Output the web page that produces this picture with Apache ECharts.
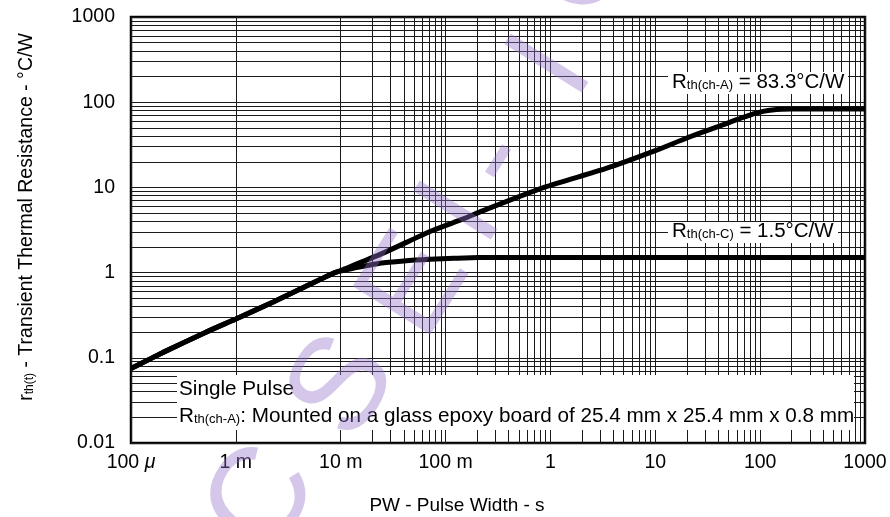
<!DOCTYPE html>
<html>
<head>
<meta charset="utf-8">
<script src="https://cdn.jsdelivr.net/npm/echarts@6/dist/echarts.min.js"></script>
<style>
html,body{margin:0;padding:0;background:#fff;}
#chart{width:890px;height:517px;}
</style>
</head>
<body>
<div id="chart"></div>
<script>
// ---- data ----
const pwA = [1e-4, 2e-4, 5e-4, 1e-3, 2.3e-3, 5e-3, 8.3e-3, 0.01, 0.025, 0.074, 0.15, 0.225, 0.87, 3.4, 10, 20, 41, 86, 110, 130, 160, 200, 300, 1000];
const rthA = [0.075, 0.115, 0.196, 0.286, 0.455, 0.72, 0.97, 1.06, 1.68, 3.1, 4.3, 5.3, 10.0, 16.7, 27, 38, 52.5, 72.7, 78.5, 81, 82.6, 83.2, 83.3, 83.3];
const pwC = [1e-4, 2e-4, 5e-4, 1e-3, 2.3e-3, 5e-3, 8.3e-3, 0.0098, 0.0114, 0.015, 0.0236, 0.04, 0.0708, 0.12, 0.21, 0.35, 1000];
const rthC = [0.075, 0.115, 0.196, 0.286, 0.455, 0.72, 0.97, 1.04, 1.08, 1.16, 1.29, 1.37, 1.43, 1.47, 1.5, 1.5, 1.5];
const xTickLabels = ['100 {mu|μ}', '1 m', '10 m', '100 m', '1', '10', '100', '1000'];
const yTickLabels = ['0.01', '0.1', '1', '10', '100', '1000'];
const minorMantissas = [2, 3, 4, 5, 6, 7, 8, 9];
const xDecades = [1e-4, 1e-3, 1e-2, 1e-1, 1, 10, 100];
const yDecades = [0.01, 0.1, 1, 10, 100];
const xTitle = 'PW - Pulse Width - s';
const yTitle = '{r|r}{s|th(t)}{n| - Transient Thermal Resistance - °C/W}';
const labelA = '{R|R}{s|th(ch-A)}{R| = 83.3°C/W}';
const labelC = '{R|R}{s|th(ch-C)}{R| = 1.5°C/W}';
const note1 = 'Single Pulse';
const note2 = '{R|R}{s|th(ch-A)}{R|: Mounted on a glass epoxy board of 25.4 mm x 25.4 mm x 0.8 mm}';
const watermarkChars = ['C', 'S', 'E', 'I', '-', 'I', 'O'];
const watermarkPos = [[264, 501], [345, 388], [417, 287], [463, 215], [497, 160], [554, 68], [587, -38]];

// ---- build ----
const FONT = "'Liberation Sans', Arial, sans-serif";
const gridLineStyle = { color: '#1a1a1a', width: 1, type: 'solid' };
const vLines = [];
xDecades.forEach(d => minorMantissas.forEach(m => vLines.push({ xAxis: m * d })));
const hLines = [];
yDecades.forEach(d => minorMantissas.forEach(m => hLines.push({ yAxis: m * d })));

const chart = echarts.init(document.getElementById('chart'), null, { renderer: 'canvas' });

function richMain(size) {
  return {
    R: { fontFamily: FONT, fontSize: size, fill: '#000', color: '#000', verticalAlign: 'bottom' },
    s: { fontFamily: FONT, fontSize: Math.round(size * 0.62), fill: '#000', color: '#000', verticalAlign: 'bottom', padding: [0, 0, 1, 0] }
  };
}

const wmElements = watermarkChars.map((ch, i) => ({
  type: 'text',
  x: watermarkPos[i][0],
  y: watermarkPos[i][1],
  rotation: 58 * Math.PI / 180,
  z: 60,
  silent: true,
  style: {
    text: ch,
    x: 0, y: 0,
    align: 'center',
    verticalAlign: 'middle',
    font: "133px 'Liberation Sans', Arial, sans-serif",
    fill: 'rgba(150,115,200,0.40)'
  }
}));

const option = {
  animation: false,
  backgroundColor: '#fff',
  grid: { left: 131, right: 25, top: 17, bottom: 74, show: true, borderColor: '#000', borderWidth: 2.5, backgroundColor: 'transparent' },
  xAxis: {
    type: 'log', logBase: 10, min: 1e-4, max: 1000, splitNumber: 7,
    axisLine: { show: false }, axisTick: { show: false },
    splitLine: { show: true, lineStyle: gridLineStyle },
    axisLabel: {
      margin: 10, fontFamily: FONT, fontSize: 19.5, color: '#000',
      formatter: v => xTickLabels[Math.round(Math.log10(v)) + 4],
      rich: { mu: { fontFamily: FONT, fontSize: 19.5, fontStyle: 'italic', color: '#000' } }
    }
  },
  yAxis: {
    type: 'log', logBase: 10, min: 0.01, max: 1000, splitNumber: 5,
    axisLine: { show: false }, axisTick: { show: false },
    splitLine: { show: true, lineStyle: gridLineStyle },
    axisLabel: {
      margin: 16, fontFamily: FONT, fontSize: 19.5, color: '#000',
      formatter: v => yTickLabels[Math.round(Math.log10(v)) + 2]
    }
  },
  series: [
    {
      name: 'grid', type: 'line', data: [], silent: true, z: 1,
      markLine: {
        silent: true, z: 1, symbol: ['none', 'none'], animation: false,
        label: { show: false }, lineStyle: gridLineStyle, emphasis: { disabled: true },
        data: vLines.concat(hLines)
      }
    },
    {
      name: 'Rth(ch-A)', type: 'line', z: 3, showSymbol: false, smooth: 0.25,
      lineStyle: { color: '#000', width: 5 }, itemStyle: { color: '#000' },
      data: pwA.map((x, i) => [x, rthA[i]])
    },
    {
      name: 'Rth(ch-C)', type: 'line', z: 3, showSymbol: false, smooth: 0.25,
      lineStyle: { color: '#000', width: 5 }, itemStyle: { color: '#000' },
      data: pwC.map((x, i) => [x, rthC[i]])
    }
  ],
  graphic: [
    { type: 'rect', z: 50, silent: true, shape: { x: 668, y: 72, width: 180, height: 22 }, style: { fill: '#fff' } },
    { type: 'text', z: 51, silent: true, x: 672, y: 93, style: { text: labelA, rich: richMain(20.5), verticalAlign: 'bottom', align: 'left' } },
    { type: 'rect', z: 50, silent: true, shape: { x: 668, y: 222, width: 170, height: 21 }, style: { fill: '#fff' } },
    { type: 'text', z: 51, silent: true, x: 672, y: 242, style: { text: labelC, rich: richMain(20.5), verticalAlign: 'bottom', align: 'left' } },
    { type: 'rect', z: 50, silent: true, shape: { x: 177, y: 375, width: 677, height: 55 }, style: { fill: '#fff' } },
    { type: 'text', z: 51, silent: true, x: 179, y: 389, style: { text: note1, font: "20.7px 'Liberation Sans', Arial, sans-serif", fill: '#000', verticalAlign: 'middle', align: 'left' } },
    { type: 'text', z: 51, silent: true, x: 179, y: 427, style: { text: note2, rich: richMain(20.7), verticalAlign: 'bottom', align: 'left' } },
    { type: 'text', z: 51, silent: true, x: 457, y: 506, style: { text: xTitle, font: "19px 'Liberation Sans', Arial, sans-serif", fill: '#000', align: 'center', verticalAlign: 'middle' } },
    { type: 'text', z: 51, silent: true, x: 27, y: 217, rotation: Math.PI / 2, style: {
        text: yTitle, align: 'center', verticalAlign: 'middle',
        rich: {
          r: { fontFamily: FONT, fontSize: 19.5, fill: '#000', verticalAlign: 'bottom' },
          s: { fontFamily: FONT, fontSize: 12, fill: '#000', verticalAlign: 'bottom', padding: [0, 0, 1, 0] },
          n: { fontFamily: FONT, fontSize: 19.5, fill: '#000', verticalAlign: 'bottom' }
        } } }
  ].concat(wmElements)
};
chart.setOption(option);
</script>
</body>
</html>
